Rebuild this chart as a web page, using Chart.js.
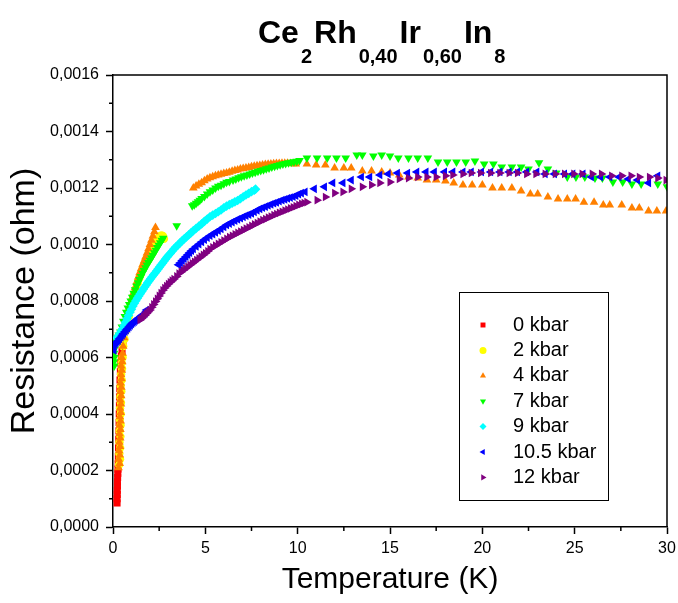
<!DOCTYPE html>
<html>
<head>
<meta charset="utf-8">
<title>Ce2Rh0,40Ir0,60In8</title>
<script src="https://cdn.jsdelivr.net/npm/chart.js@4.4.0/dist/chart.umd.min.js"></script>
<style>
  html, body { margin: 0; padding: 0; background: #fff; }
  #wrap { width: 678px; height: 603px; position: relative; }
</style>
</head>
<body>
<div id="wrap"><canvas id="resChart"></canvas></div>
<script>
// title pieces : [text, subscript?]
const titleParts = [['Ce', false], ['2', true], ['Rh', false], ['0,40', true], ['Ir', false], ['0,60', true], ['In', false], ['8', true]];

const seriesLabels = ['0 kbar', '2 kbar', '4 kbar', '7 kbar', '9 kbar', '10.5 kbar', '12 kbar'];

// [T (K), R (ohm)]
const kbar0 = [[0.22,0.000085],[0.22,0.000100],[0.23,0.000115],[0.23,0.000130],[0.24,0.000145],[0.24,0.000160],[0.25,0.000175],[0.26,0.000190],[0.27,0.000205],[0.28,0.000225],[0.29,0.000250],[0.30,0.000280],[0.31,0.000310],[0.32,0.000340],[0.33,0.000370],[0.34,0.000400],[0.35,0.000430],[0.36,0.000460],[0.37,0.000490],[0.38,0.000520],[0.40,0.000550],[0.42,0.000580],[0.45,0.000605],[0.49,0.000625],[0.54,0.000645]];

const kbar2 = [[0.33,0.000220],[0.38,0.000240],[0.34,0.000260],[0.39,0.000280],[0.35,0.000300],[0.40,0.000320],[0.36,0.000340],[0.41,0.000360],[0.37,0.000380],[0.42,0.000400],[0.38,0.000420],[0.43,0.000440],[0.40,0.000460],[0.45,0.000480],[0.42,0.000500],[0.47,0.000520],[0.44,0.000540],[0.49,0.000560],[0.47,0.000580],[0.52,0.000600],
  [0.55,0.000640],[0.62,0.000665],[0.70,0.000695],[0.78,0.000720],[0.86,0.000745],[0.94,0.000768],[1.02,0.000790],[1.10,0.000810],[1.18,0.000828],[1.26,0.000846],[1.34,0.000864],[1.42,0.000880],[1.50,0.000895],[1.58,0.000910],[1.66,0.000924],[1.74,0.000937],[1.82,0.000950],[1.90,0.000962],[1.98,0.000974],[2.06,0.000985],[2.14,0.000995],[2.22,0.001004],[2.30,0.001012],[2.38,0.001018],[2.46,0.001024],[2.54,0.001029],[2.62,0.001032],[2.70,0.001030],[2.76,0.001020]];

const kbar4 = [[0.30,0.000210],[0.36,0.000225],[0.31,0.000240],[0.37,0.000255],[0.33,0.000270],[0.38,0.000285],[0.34,0.000300],[0.39,0.000315],[0.35,0.000330],[0.40,0.000345],[0.36,0.000360],[0.41,0.000375],[0.37,0.000390],[0.42,0.000405],[0.38,0.000420],[0.43,0.000435],[0.39,0.000450],[0.44,0.000465],[0.40,0.000480],[0.45,0.000495],[0.41,0.000510],[0.46,0.000525],[0.43,0.000540],[0.48,0.000555],[0.45,0.000570],[0.50,0.000585],[0.48,0.000600],[0.52,0.000615],
  [0.55,0.000640],[0.60,0.000670],[0.66,0.000700],[0.72,0.000730],[0.80,0.000755],[0.88,0.000775],[0.96,0.000795],[1.04,0.000812],[1.12,0.000830],[1.20,0.000848],[1.28,0.000866],[1.36,0.000884],[1.44,0.000900],[1.52,0.000914],[1.60,0.000928],[1.68,0.000942],[1.76,0.000956],[1.84,0.000970],[1.92,0.000985],[2.00,0.001000],[2.08,0.001015],[2.16,0.001030],[2.24,0.001045],[2.30,0.001060],
  [4.35,0.001200],[4.50,0.001207],[4.65,0.001213],[4.80,0.001219],[4.95,0.001226],[5.10,0.001232],[5.25,0.001236],[5.40,0.001240],[5.55,0.001243],[5.70,0.001246],[5.85,0.001249],[6.00,0.001251],[6.15,0.001253],[6.30,0.001256],[6.45,0.001259],[6.60,0.001262],[6.75,0.001264],[6.90,0.001267],[7.05,0.001269],[7.20,0.001271],[7.35,0.001273],[7.50,0.001275],[7.65,0.001277],[7.80,0.001279],[7.95,0.001280],[8.10,0.001281],[8.25,0.001283],[8.40,0.001284],[8.55,0.001285],[8.70,0.001286],[8.85,0.001287],[9.00,0.001287],[9.15,0.001288],[9.30,0.001288],[9.45,0.001288],[9.60,0.001287],[9.75,0.001286],[9.90,0.001285],
  [10.50,0.001285],[11.00,0.001281],[11.50,0.001281],[12.00,0.001271],[12.50,0.001271],[12.90,0.001271],[13.50,0.001260],[14.00,0.001260],[14.55,0.001257],[15.00,0.001253],[15.50,0.001246],[16.00,0.001239],[16.50,0.001235],[17.00,0.001228],[17.50,0.001228],[18.00,0.001225],[18.45,0.001218],[18.95,0.001211],[19.45,0.001211],[20.00,0.001211],[20.55,0.001200],[21.05,0.001200],[21.60,0.001200],[22.10,0.001189],[22.60,0.001179],[23.00,0.001179],[23.55,0.001168],[24.10,0.001161],[24.60,0.001161],[25.05,0.001161],[25.50,0.001150],[26.05,0.001150],[26.55,0.001140],[26.90,0.001140],[27.55,0.001140],[28.10,0.001129],[28.50,0.001129],[29.00,0.001119],[29.45,0.001119],[29.95,0.001119]];

const kbar7 = [[0.06,0.000570],[0.05,0.000585],[0.07,0.000600],[0.06,0.000615],[0.08,0.000630],[0.10,0.000645],[0.14,0.000655],[0.20,0.000665],[0.26,0.000672],[0.32,0.000680],[0.40,0.000690],[0.48,0.000708],[0.56,0.000728],[0.64,0.000745],[0.72,0.000760],[0.80,0.000775],[0.88,0.000788],[0.96,0.000800],[1.04,0.000813],[1.12,0.000827],[1.20,0.000840],[1.28,0.000853],[1.36,0.000865],[1.44,0.000876],[1.52,0.000887],[1.60,0.000898],[1.68,0.000908],[1.76,0.000918],[1.84,0.000927],[1.92,0.000936],[2.00,0.000944],[2.08,0.000953],[2.16,0.000962],[2.24,0.000971],[2.32,0.000980],[2.40,0.000989],[2.48,0.000997],[2.56,0.001006],[2.64,0.001015],[2.72,0.001022],
  [3.45,0.001066],
  [4.29,0.001137],[4.40,0.001141],[4.50,0.001146],[4.60,0.001151],[4.70,0.001157],[4.80,0.001163],[4.95,0.001170],[5.10,0.001179],[5.25,0.001187],[5.40,0.001193],[5.55,0.001200],[5.70,0.001206],[5.85,0.001210],[6.00,0.001215],[6.15,0.001220],[6.30,0.001223],[6.50,0.001228],[6.65,0.001232],[6.80,0.001236],[6.95,0.001240],[7.10,0.001243],[7.25,0.001246],[7.40,0.001250],[7.55,0.001253],[7.70,0.001256],[7.85,0.001259],[8.00,0.001262],[8.15,0.001265],[8.30,0.001268],[8.45,0.001271],[8.60,0.001274],[8.75,0.001277],[8.90,0.001280],[9.05,0.001282],[9.20,0.001285],[9.35,0.001287],[9.50,0.001289],[9.65,0.001291],[9.80,0.001293],[9.95,0.001295],[10.10,0.001297],
  [10.50,0.001306],[11.05,0.001306],[11.60,0.001306],[12.10,0.001306],[12.60,0.001306],[13.20,0.001317],[13.50,0.001317],[14.10,0.001313],[14.55,0.001317],[15.00,0.001313],[15.45,0.001306],[16.00,0.001306],[16.50,0.001306],[17.05,0.001306],[17.60,0.001292],[18.10,0.001292],[18.60,0.001292],[19.10,0.001292],[19.60,0.001296],[20.10,0.001285],[20.60,0.001285],[21.05,0.001274],[21.60,0.001274],[22.10,0.001274],[22.50,0.001267],[23.07,0.001289],[23.55,0.001267],[24.00,0.001253],[24.60,0.001239],[25.07,0.001239],[25.55,0.001239],[26.10,0.001235],[26.50,0.001235],[27.07,0.001221],[27.60,0.001221],[28.10,0.001214],[28.60,0.001214],[29.50,0.001214],[30.00,0.001204]];

const kbar9 = [[0.20,0.000669],[0.28,0.000676],[0.36,0.000684],[0.44,0.000693],[0.52,0.000702],[0.60,0.000713],[0.68,0.000725],[0.76,0.000737],[0.84,0.000749],[0.92,0.000760],[1.00,0.000771],[1.08,0.000782],[1.16,0.000792],[1.24,0.000801],[1.32,0.000810],[1.40,0.000818],[1.48,0.000826],[1.56,0.000834],[1.64,0.000842],[1.72,0.000850],[1.80,0.000857],[1.88,0.000865],[1.96,0.000872],[2.04,0.000879],[2.12,0.000886],[2.20,0.000893],[2.28,0.000899],[2.36,0.000906],[2.44,0.000913],[2.52,0.000920],[2.60,0.000927],[2.68,0.000934],[2.76,0.000941],[2.84,0.000948],[2.92,0.000955],[3.00,0.000961],[3.10,0.000968],[3.20,0.000976],[3.30,0.000984],[3.40,0.000991],[3.50,0.000997],[3.62,0.001005],[3.74,0.001013],[3.86,0.001020],[3.98,0.001027],[4.10,0.001034],[4.22,0.001041],[4.35,0.001049],[4.50,0.001057],[4.65,0.001065],[4.80,0.001073],[4.95,0.001082],[5.10,0.001090],[5.25,0.001098],[5.40,0.001104],[5.55,0.001110],[5.70,0.001116],[5.85,0.001122],[6.00,0.001130],[6.15,0.001136],[6.30,0.001141],[6.45,0.001146],[6.60,0.001151],[6.75,0.001156],[6.90,0.001162],[7.05,0.001169],[7.20,0.001175],[7.35,0.001181],[7.50,0.001187],[7.65,0.001192],[7.72,0.001196]];

const kbar105 = [[0.05,0.000625],[0.06,0.000640],[0.10,0.000648],[0.16,0.000652],[0.22,0.000656],[0.29,0.000660],[0.36,0.000666],[0.43,0.000672],[0.50,0.000679],[0.57,0.000685],[0.65,0.000691],[0.72,0.000697],[0.80,0.000703],[0.87,0.000708],[0.94,0.000714],[1.01,0.000719],[1.08,0.000723],[1.15,0.000727],[1.22,0.000731],[1.30,0.000735],[1.37,0.000739],[1.44,0.000742],[1.51,0.000746],[1.58,0.000750],[1.66,0.000753],[1.73,0.000756],[1.80,0.000762],[1.82,0.000768],
  [3.55,0.000928],[3.65,0.000935],[3.75,0.000943],[3.85,0.000950],[3.95,0.000957],[4.05,0.000964],[4.15,0.000971],[4.25,0.000978],[4.35,0.000984],[4.50,0.000993],[4.65,0.001001],[4.80,0.001009],[4.95,0.001017],[5.10,0.001024],[5.25,0.001031],[5.40,0.001037],[5.55,0.001043],[5.70,0.001049],[5.85,0.001055],[6.00,0.001062],[6.15,0.001069],[6.30,0.001074],[6.45,0.001079],[6.60,0.001084],[6.75,0.001089],[6.90,0.001093],[7.05,0.001098],[7.20,0.001102],[7.35,0.001106],[7.50,0.001110],[7.65,0.001115],[7.80,0.001121],[7.95,0.001126],[8.10,0.001130],[8.25,0.001134],[8.40,0.001138],[8.55,0.001142],[8.70,0.001146],[8.85,0.001149],[9.00,0.001153],[9.15,0.001157],[9.30,0.001160],[9.45,0.001163],[9.60,0.001166],[9.75,0.001169],[9.90,0.001173],[10.05,0.001178],[10.20,0.001182],[10.40,0.001186],
  [10.90,0.001197],[11.45,0.001204],[11.90,0.001218],[12.45,0.001218],[12.90,0.001228],[13.45,0.001239],[13.90,0.001239],[14.45,0.001246],[14.90,0.001250],[15.40,0.001253],[15.95,0.001253],[16.45,0.001257],[16.95,0.001257],[17.40,0.001257],[17.95,0.001257],[18.40,0.001257],[18.95,0.001257],[19.40,0.001257],[19.95,0.001257],[20.45,0.001257],[20.95,0.001257],[21.45,0.001257],[21.90,0.001257],[22.40,0.001257],[22.95,0.001257],[23.40,0.001250],[23.90,0.001250],[24.45,0.001250],[24.90,0.001250],[25.45,0.001250],[25.90,0.001239],[26.40,0.001239],[26.90,0.001239],[27.40,0.001239],[27.90,0.001232],[28.40,0.001228],[29.00,0.001218],[29.50,0.001243]];

const kbar12 = [[1.46,0.000733],[1.55,0.000738],[1.64,0.000744],[1.73,0.000750],[1.82,0.000756],[1.91,0.000762],[2.00,0.000768],[2.10,0.000778],[2.20,0.000788],[2.30,0.000798],[2.40,0.000808],[2.50,0.000818],[2.60,0.000828],[2.70,0.000838],[2.80,0.000846],[2.90,0.000853],[3.00,0.000860],[3.10,0.000866],[3.20,0.000872],[3.30,0.000878],[3.45,0.000887],[3.57,0.000897],[3.69,0.000903],[3.81,0.000909],[3.93,0.000915],[4.05,0.000921],[4.17,0.000927],[4.29,0.000933],[4.41,0.000939],[4.53,0.000945],[4.65,0.000951],[4.77,0.000957],[4.89,0.000963],[5.01,0.000969],[5.13,0.000976],[5.25,0.000984],[5.40,0.000990],[5.55,0.000996],[5.70,0.001002],[5.85,0.001008],[6.00,0.001014],[6.16,0.001020],[6.31,0.001026],[6.46,0.001031],[6.61,0.001036],[6.76,0.001041],[6.91,0.001046],[7.06,0.001051],[7.21,0.001056],[7.36,0.001061],[7.51,0.001066],[7.66,0.001071],[7.81,0.001076],[7.96,0.001081],[8.11,0.001086],[8.26,0.001090],[8.41,0.001095],[8.56,0.001099],[8.71,0.001104],[8.86,0.001108],[9.01,0.001112],[9.16,0.001116],[9.31,0.001120],[9.46,0.001124],[9.61,0.001128],[9.76,0.001132],[9.91,0.001136],[10.06,0.001140],[10.21,0.001144],[10.35,0.001147],
  [10.50,0.001150],[11.05,0.001157],[11.50,0.001168],[12.00,0.001182],[12.45,0.001186],[12.90,0.001197],[13.50,0.001204],[14.00,0.001211],[14.45,0.001218],[15.00,0.001221],[15.50,0.001232],[16.00,0.001235],[16.50,0.001239],[17.00,0.001239],[17.50,0.001239],[18.00,0.001243],[18.40,0.001246],[18.95,0.001250],[19.40,0.001253],[19.90,0.001253],[20.45,0.001253],[20.95,0.001253],[21.45,0.001253],[21.90,0.001253],[22.40,0.001250],[22.90,0.001250],[23.40,0.001250],[23.95,0.001250],[24.45,0.001250],[24.95,0.001250],[25.40,0.001250],[25.95,0.001250],[26.45,0.001250],[27.00,0.001243],[27.55,0.001243],[28.05,0.001243],[28.50,0.001239],[29.05,0.001239],[29.50,0.001235],[29.95,0.001228]];

const seriesData = [kbar0, kbar2, kbar4, kbar7, kbar9, kbar105, kbar12];
const seriesColors = ['#ff0000', '#ffff00', '#ff8000', '#00ff00', '#00ffff', '#0000ff', '#800080'];
const seriesStyles = ['rect', 'circle', 'triangle', 'triangle', 'rectRot', 'triangle', 'triangle'];
const seriesRotation = [0, 0, 0, 180, 0, 270, 90];
const seriesRadius = [5, 4.2, 5, 5, 4.8, 5, 5];

const FONT = '"Liberation Sans", Arial, Helvetica, sans-serif';

const datasets = seriesData.map((pts, i) => ({
  label: seriesLabels[i],
  data: pts.map(p => ({ x: p[0], y: p[1] })),
  backgroundColor: seriesColors[i],
  borderColor: seriesColors[i],
  pointStyle: seriesStyles[i],
  rotation: seriesRotation[i],
  pointRadius: seriesRadius[i],
  pointBorderWidth: 0,
  showLine: false,
  order: seriesData.length - i
}));

// formula title with subscripts
const formulaTitle = {
  id: 'formulaTitle',
  afterDraw(chart) {
    const ctx = chart.ctx;
    ctx.save();
    ctx.fillStyle = '#000';
    ctx.textBaseline = 'alphabetic';
    let x = 258;
    titleParts.forEach(([txt, sub]) => {
      ctx.font = sub ? 'bold 20px ' + FONT : 'bold 32px ' + FONT;
      ctx.fillText(txt, x, sub ? 63 : 43);
      x += ctx.measureText(txt).width + 2;
    });
    ctx.restore();
  }
};

// closing frame + minor ticks
const frameTicks = {
  id: 'frameTicks',
  afterDraw(chart) {
    const { ctx, chartArea: a, scales: { x, y } } = chart;
    ctx.save();
    ctx.strokeStyle = '#000';
    ctx.lineWidth = 1.5;
    ctx.beginPath();
    ctx.moveTo(a.left, a.top);
    ctx.lineTo(a.right, a.top);
    ctx.lineTo(a.right, a.bottom);
    for (let v = 2.5; v < 30; v += 5) {
      const px = x.getPixelForValue(v);
      ctx.moveTo(px, a.bottom);
      ctx.lineTo(px, a.bottom + 4);
    }
    for (let k = 1; k < 16; k += 2) {
      const py = y.getPixelForValue(k * 0.0001);
      ctx.moveTo(a.left, py);
      ctx.lineTo(a.left - 4, py);
    }
    ctx.stroke();
    ctx.restore();
  }
};

// boxed legend inside the plot
const legendBox = {
  id: 'legendBox',
  afterDatasetsDraw(chart) {
    const ctx = chart.ctx;
    ctx.save();
    ctx.fillStyle = '#fff';
    ctx.fillRect(459.5, 292.5, 149, 208);
    ctx.strokeStyle = '#000';
    ctx.lineWidth = 1;
    ctx.strokeRect(459.5, 292.5, 149, 208);
    ctx.font = '20px ' + FONT;
    ctx.textBaseline = 'middle';
    chart.data.datasets.forEach((ds, i) => {
      const yy = 325 + i * 25.4;
      ctx.fillStyle = ds.backgroundColor;
      Chart.helpers.drawPoint(ctx, { pointStyle: ds.pointStyle, radius: 3.5, rotation: ds.rotation, borderWidth: 0 }, 483, yy);
      ctx.fillStyle = '#000';
      ctx.fillText(ds.label, 513, yy);
    });
    ctx.restore();
  }
};

const ctx = document.getElementById('resChart').getContext('2d');
new Chart(ctx, {
  type: 'scatter',
  data: { datasets },
  plugins: [formulaTitle, frameTicks, legendBox],
  options: {
    responsive: true,
    maintainAspectRatio: false,
    animation: false,
    layout: { padding: { top: 75, right: 11, left: 0, bottom: 0 } },
    plugins: {
      legend: { display: false },
      title: { display: false },
      tooltip: { enabled: false }
    },
    scales: {
      x: {
        type: 'linear',
        min: 0,
        max: 30,
        afterFit: s => { s.height = 76; s.paddingLeft = 0; s.paddingRight = 0; },
        ticks: { stepSize: 5, color: '#000', padding: 5, font: { family: FONT, size: 16 } },
        grid: { drawOnChartArea: false, drawTicks: true, tickLength: 7, tickColor: '#000', tickWidth: 1.5 },
        border: { display: true, color: '#000', width: 1.5 },
        title: { display: true, text: 'Temperature (K)', color: '#000', font: { family: FONT, size: 30 }, padding: { top: 0, bottom: 5 } }
      },
      y: {
        type: 'linear',
        min: 0,
        max: 0.0016,
        afterFit: s => { s.width = 113; s.paddingTop = 0; s.paddingBottom = 0; },
        ticks: {
          stepSize: 0.0002,
          color: '#000',
          padding: 7,
          font: { family: FONT, size: 16 },
          callback: v => Number(v).toFixed(4).replace('.', ',')
        },
        grid: { drawOnChartArea: false, drawTicks: true, tickLength: 7, tickColor: '#000', tickWidth: 1.5 },
        border: { display: true, color: '#000', width: 1.5 },
        title: { display: true, text: 'Resistance (ohm)', color: '#000', font: { family: FONT, size: 34 }, padding: { top: 4, bottom: 0 } }
      }
    }
  }
});
</script>
</body>
</html>
